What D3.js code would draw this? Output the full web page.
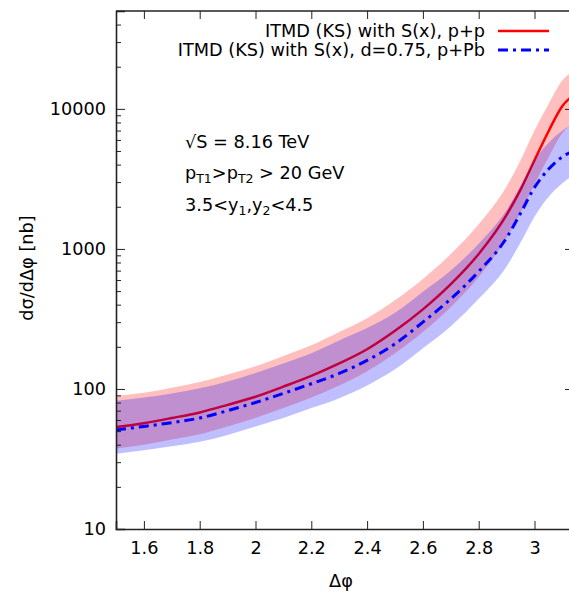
<!DOCTYPE html>
<html>
<head>
<meta charset="utf-8">
<script src="https://cdn.jsdelivr.net/npm/d3@7"></script>
<style>
  html, body { margin: 0; padding: 0; background: #fff; }
  svg text { font-family: "DejaVu Sans", Verdana, sans-serif; fill: #000; }
</style>
</head>
<body>
<svg id="chart" width="569" height="593"></svg>
<script>
// ---- data ----
const dphi   = [1.5, 1.6, 1.7, 1.8, 1.9, 2.0, 2.1, 2.2, 2.3, 2.4, 2.5, 2.6, 2.7, 2.8, 2.9, 2.95, 3.0, 3.05, 3.1, 3.1416];
const ppCentral = [53.5, 57, 62, 68, 77, 88, 104, 124, 152, 192, 260, 370, 560, 920, 1750, 2650, 4300, 6900, 10500, 12600];
const ppUpper   = [89, 94, 102, 112, 127, 145, 172, 205, 255, 320, 430, 610, 920, 1500, 2800, 4300, 7000, 10800, 16000, 18800];
const ppLower   = [37.5, 40, 43.5, 47.5, 54, 62, 73, 87, 106, 134, 180, 255, 385, 630, 1200, 1820, 2900, 4500, 6700, 7900];
const pPbCentral = [51, 54, 57.5, 62, 70, 80, 93, 109, 129, 160, 210, 300, 440, 690, 1200, 1800, 2750, 3700, 4550, 5000];
const pPbUpper   = [82.5, 87, 93, 101, 113, 130, 152, 180, 222, 272, 350, 495, 700, 1090, 1900, 2800, 4300, 5700, 7000, 7800];
const pPbLower   = [34.5, 36.5, 39, 42, 47, 54, 62, 73, 86, 106, 138, 195, 280, 440, 750, 1110, 1700, 2350, 2950, 3400];
const xTicks = [1.6, 1.8, 2.0, 2.2, 2.4, 2.6, 2.8, 3.0];
const yTicks = [10, 100, 1000, 10000];
const legendLabels = ["ITMD (KS) with S(x), p+p", "ITMD (KS) with S(x), d=0.75, p+Pb"];

(function draw() {
// ---- layout ----
const svg = d3.select("#chart");
const mLeft = 116, mTop = 11, mBottom = 529;
const fs = 17.7;
const x = d3.scaleLinear().domain([1.5, Math.PI]).range([mLeft, mLeft + (Math.PI - 1.5) * 279]);
const y = d3.scaleLog().domain([10, 50000]).range([mBottom, mTop]);
const mRight = x.range()[1];

const pp  = dphi.map((d, i) => ({x: d, c: ppCentral[i], lo: ppLower[i], hi: ppUpper[i]}));
const pPb = dphi.map((d, i) => ({x: d, c: pPbCentral[i], lo: pPbLower[i], hi: pPbUpper[i]}));

const curve = d3.curveMonotoneX;
const area = d3.area().x(d => x(d.x)).y0(d => y(d.lo)).y1(d => y(d.hi)).curve(curve);
const line = d3.line().x(d => x(d.x)).y(d => y(d.c)).curve(curve);

const g = svg.append("g");
g.append("clipPath").attr("id", "clip").append("rect")
  .attr("x", mLeft).attr("y", mTop).attr("width", mRight - mLeft).attr("height", mBottom - mTop);
const plot = g.append("g").attr("clip-path", "url(#clip)");

// draw order: red band, red line, blue band, blue line
plot.append("path").datum(pp).attr("d", area).attr("fill", "rgb(255,0,0)").attr("fill-opacity", 0.25);
plot.append("path").datum(pp).attr("d", line).attr("fill", "none").attr("stroke", "#ff0000").attr("stroke-width", 2.5);
plot.append("path").datum(pPb).attr("d", area).attr("fill", "rgb(0,0,255)").attr("fill-opacity", 0.25);
plot.append("path").datum(pPb).attr("d", line).attr("fill", "none").attr("stroke", "#0000ff")
  .attr("stroke-width", 3).attr("stroke-dasharray", "10,5,3,5");

// ---- axes ----
const axisColor = "#222";
const xAxisB = g.append("g").attr("transform", `translate(0,${mBottom})`)
  .call(d3.axisBottom(x).tickValues(xTicks).tickSize(-8).tickPadding(12).tickFormat(d3.format("~g")));
const xAxisT = g.append("g").attr("transform", `translate(0,${mTop})`)
  .call(d3.axisTop(x).tickValues(xTicks).tickSize(-8).tickFormat(""));
const minor = [];
for (let e = 1; e <= 4; e++) for (let m = 2; m <= 9; m++) { const v = m * Math.pow(10, e); if (v <= 50000) minor.push(v); }
const yAxisL = g.append("g").attr("transform", `translate(${mLeft},0)`)
  .call(d3.axisLeft(y).tickValues(yTicks).tickSize(-9).tickPadding(10).tickFormat(d3.format("d")));
const yMinorL = g.append("g").attr("transform", `translate(${mLeft},0)`)
  .call(d3.axisLeft(y).tickValues(minor).tickSize(-5).tickFormat(""));
const yAxisR = g.append("g").attr("transform", `translate(${mRight},0)`)
  .call(d3.axisRight(y).tickValues(yTicks).tickSize(-9).tickFormat(""));
const yMinorR = g.append("g").attr("transform", `translate(${mRight},0)`)
  .call(d3.axisRight(y).tickValues(minor).tickSize(-5).tickFormat(""));

[xAxisB, xAxisT, yAxisL, yMinorL, yAxisR, yMinorR].forEach(a => {
  a.select(".domain").attr("stroke", axisColor).attr("stroke-width", 1.6);
  a.selectAll(".tick line").attr("stroke", axisColor).attr("stroke-width", 1);
  a.selectAll(".tick text").attr("font-size", fs).attr("fill", "#000")
    .style("font-family", "'DejaVu Sans', Verdana, sans-serif");
});
[xAxisT, yMinorL, yAxisR, yMinorR].forEach(a => a.select(".domain").remove());
g.append("line").attr("x1", mLeft).attr("x2", mRight).attr("y1", mTop).attr("y2", mTop)
  .attr("stroke", axisColor).attr("stroke-width", 1.6);
g.append("line").attr("x1", mRight).attr("x2", mRight).attr("y1", mTop).attr("y2", mBottom)
  .attr("stroke", axisColor).attr("stroke-width", 1.6);

// ---- axis labels ----
svg.append("text").attr("x", 341).attr("y", 587).attr("text-anchor", "middle").attr("font-size", fs).text("Δφ");
svg.append("text").attr("transform", "translate(33,268) rotate(-90)").attr("text-anchor", "middle")
  .attr("font-size", fs).text("dσ/dΔφ [nb]");

// ---- legend ----
const legend = svg.append("g");
const legY = [31, 50];
legend.append("text").attr("x", 485).attr("y", legY[0]).attr("dy", "0.35em").attr("text-anchor", "end")
  .attr("font-size", fs).text(legendLabels[0]);
legend.append("line").attr("x1", 498).attr("x2", 549).attr("y1", legY[0]).attr("y2", legY[0])
  .attr("stroke", "#ff0000").attr("stroke-width", 2.5);
legend.append("text").attr("x", 485).attr("y", legY[1]).attr("dy", "0.35em").attr("text-anchor", "end")
  .attr("font-size", fs).text(legendLabels[1]);
legend.append("line").attr("x1", 498).attr("x2", 549).attr("y1", legY[1]).attr("y2", legY[1])
  .attr("stroke", "#0000ff").attr("stroke-width", 3).attr("stroke-dasharray", "10,5,3,5");

// ---- annotations ----
const sub = 12.5;
const ann = svg.append("g").attr("font-size", fs);
ann.append("text").attr("x", 185).attr("y", 148).text("√S = 8.16 TeV");
const t2 = ann.append("text").attr("x", 185).attr("y", 179);
t2.append("tspan").text("p");
t2.append("tspan").attr("font-size", sub).attr("dy", 4).text("T1");
t2.append("tspan").attr("dy", -4).text(">p");
t2.append("tspan").attr("font-size", sub).attr("dy", 4).text("T2");
t2.append("tspan").attr("dy", -4).text(" > 20 GeV");
const t3 = ann.append("text").attr("x", 185).attr("y", 211);
t3.append("tspan").text("3.5<y");
t3.append("tspan").attr("font-size", sub).attr("dy", 4).text("1");
t3.append("tspan").attr("dy", -4).text(",y");
t3.append("tspan").attr("font-size", sub).attr("dy", 4).text("2");
t3.append("tspan").attr("dy", -4).text("<4.5");
})();
</script>
</body>
</html>
